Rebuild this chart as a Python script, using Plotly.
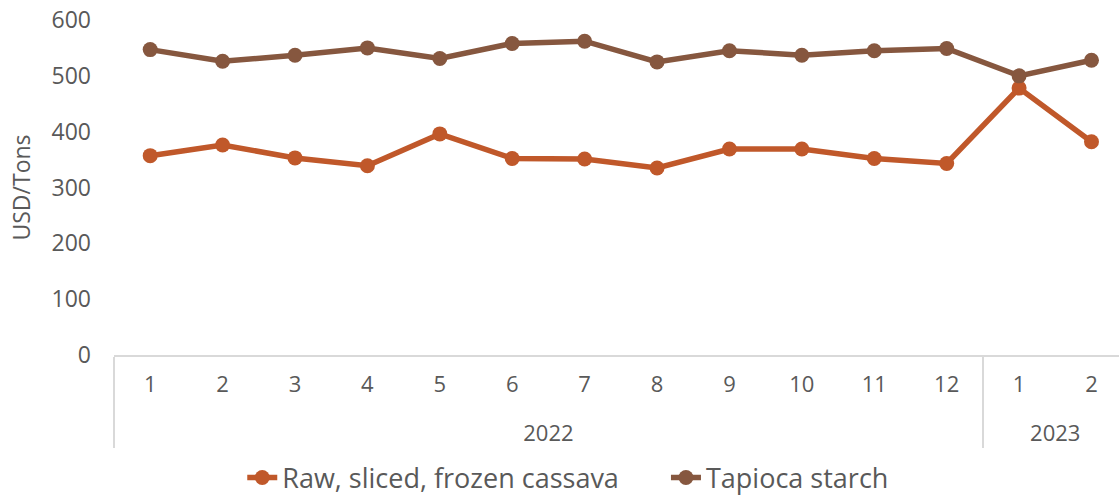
import plotly.graph_objects as go

years = ["2022"] * 12 + ["2023"] * 2
months = ["1", "2", "3", "4", "5", "6", "7", "8", "9", "10", "11", "12", "1", "2"]
cassava = [357, 376, 353, 339, 396, 352, 351, 335, 369, 369, 352, 343, 478, 382]
tapioca = [547, 526, 537, 550, 531, 558, 562, 525, 545, 537, 545, 549, 500, 528]
y_ticks = [0, 100, 200, 300, 400, 500, 600]
series_names = ["Raw, sliced, frozen cassava", "Tapioca starch"]

font_family = "Open Sans, Liberation Sans, sans-serif"
grey = "#595959"

# month labels with a small spacer line so the year row sits lower (as in the reference)
month_labels = [m + "<br><span style='font-size:10px'> </span>" for m in months]

fig = go.Figure()
fig.add_trace(go.Scatter(
    x=[years, month_labels], y=cassava,
    name=series_names[0] + "\u00a0" * 6,  # extra gap between legend entries
    mode="lines+markers",
    line=dict(color="#C0582A", width=5.5),
    marker=dict(color="#C0582A", size=15),
))
fig.add_trace(go.Scatter(
    x=[years, month_labels], y=tapioca, name=series_names[1],
    mode="lines+markers",
    line=dict(color="#86573F", width=5.5),
    marker=dict(color="#86573F", size=15),
))

fig.update_layout(
    width=1119, height=495,
    margin=dict(l=114, r=0, t=20, b=140, autoexpand=False),
    paper_bgcolor="white", plot_bgcolor="white",
    font=dict(family=font_family, size=22, color=grey),
    showlegend=True,
    legend=dict(orientation="h", x=0.452, xanchor="center", y=-0.367, yanchor="middle",
                font=dict(size=27, color=grey)),
    xaxis=dict(
        type="multicategory", automargin=False,
        range=[-0.5, 13.38],
        showline=True, linecolor="#D9D9D9", linewidth=2,
        showgrid=False, zeroline=False,
        showdividers=True, dividercolor="#D9D9D9", dividerwidth=2,
        tickfont=dict(size=22, color=grey),
        ticks="outside", ticklen=47, tickcolor="rgba(0,0,0,0)",
        ticklabelstandoff=9,
    ),
    yaxis=dict(
        range=[0, 600], tickvals=y_ticks, automargin=False,
        showgrid=False, zeroline=False, showline=False,
        tickfont=dict(size=23, color=grey),
        ticklabelstandoff=22,
        title=dict(text="USD/Tons", font=dict(size=23, color=grey), standoff=14),
        ticks="",
    ),
)

fig.write_html("out.html", config={"displayModeBar": False},
               post_script="document.body.style.margin='0';")
